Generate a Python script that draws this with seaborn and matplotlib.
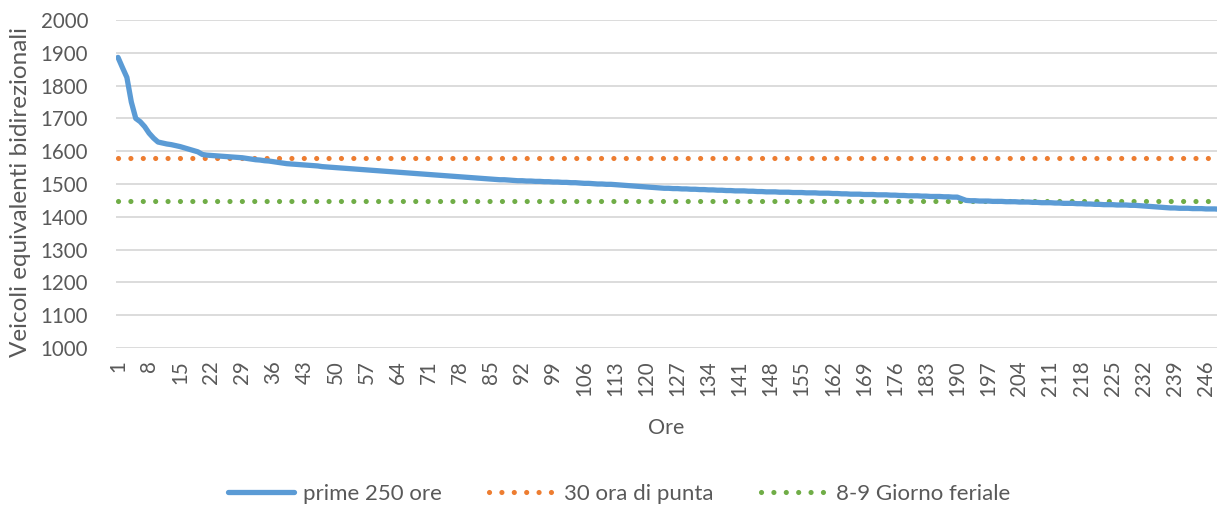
import matplotlib
matplotlib.use("Agg")
import matplotlib.pyplot as plt
import seaborn as sns
import pandas as pd

# Veicoli equivalenti bidirezionali, prime 250 ore ordinate in modo decrescente
prime_250_ore = [
    1886, 1855, 1825, 1750, 1700, 1690, 1675, 1655, 1640, 1628,
    1625, 1622, 1620, 1617, 1614, 1610, 1606, 1602, 1598, 1590,
    1588, 1587, 1586, 1585, 1584, 1583, 1582, 1581, 1580, 1578,
    1576, 1574, 1573, 1571, 1570, 1568, 1566, 1564, 1562, 1561,
    1560, 1559, 1558, 1557, 1556, 1555, 1553, 1552, 1551, 1550,
    1549, 1548, 1547, 1546, 1545, 1544, 1543, 1542, 1541, 1540,
    1539, 1538, 1537, 1536, 1535, 1534, 1533, 1532, 1531, 1530,
    1529, 1528, 1527, 1526, 1525, 1524, 1523, 1522, 1521, 1520,
    1519, 1518, 1517, 1516, 1515, 1514, 1513, 1513, 1512, 1511,
    1510, 1510, 1509, 1509, 1508, 1508, 1507, 1507, 1506, 1506,
    1505, 1505, 1504, 1504, 1503, 1502, 1502, 1501, 1500, 1500,
    1499, 1499, 1498, 1497, 1496, 1495, 1494, 1493, 1492, 1491,
    1490, 1489, 1488, 1487, 1487, 1486, 1486, 1485, 1485, 1484,
    1484, 1483, 1483, 1482, 1482, 1481, 1481, 1480, 1480, 1479,
    1479, 1479, 1478, 1478, 1477, 1477, 1476, 1476, 1476, 1475,
    1475, 1475, 1474, 1474, 1474, 1473, 1473, 1473, 1472, 1472,
    1472, 1471, 1471, 1470, 1470, 1469, 1469, 1469, 1468, 1468,
    1468, 1467, 1467, 1467, 1466, 1466, 1465, 1465, 1464, 1464,
    1464, 1463, 1463, 1462, 1462, 1462, 1461, 1461, 1460, 1460,
    1455, 1450, 1449, 1449, 1448, 1448, 1448, 1447, 1447, 1447,
    1446, 1446, 1446, 1445, 1445, 1445, 1444, 1444, 1443, 1443,
    1443, 1442, 1442, 1441, 1441, 1441, 1440, 1440, 1439, 1439,
    1438, 1438, 1437, 1437, 1437, 1436, 1436, 1436, 1435, 1435,
    1434, 1433, 1432, 1431, 1430, 1429, 1428, 1427, 1427, 1426,
    1426, 1426, 1425, 1425, 1425, 1424, 1424, 1424, 1423, 1423,
]
ora_di_punta_30 = 1580      # 30a ora di punta
giorno_feriale_8_9 = 1447   # fascia 8-9 del giorno feriale

ore = list(range(1, len(prime_250_ore) + 1))
tick_ore = list(range(1, 250, 7))

df = pd.DataFrame({
    "Ore": ore,
    "prime 250 ore": prime_250_ore,
    "30 ora di punta": [ora_di_punta_30] * len(ore),
    "8-9 Giorno feriale": [giorno_feriale_8_9] * len(ore),
})

sns.set_theme(style="white")
plt.rcParams["font.family"] = ["Lato", "DejaVu Sans"]

fig = plt.figure(figsize=(12.17, 5.07), dpi=100)
ax = fig.add_axes([116 / 1217, 1 - 348 / 507, 1 - 116 / 1217, (348 - 20) / 507])

blue, orange, green = "#5B9BD5", "#ED7D31", "#70AD47"
dot = (0, (0.01, 2.4))
text_col = "#595959"

sns.lineplot(data=df, x="Ore", y="8-9 Giorno feriale", ax=ax, color=green,
             linewidth=3.7, linestyle=dot, dash_capstyle="round",
             label="8-9 Giorno feriale", zorder=2)
sns.lineplot(data=df, x="Ore", y="30 ora di punta", ax=ax, color=orange,
             linewidth=3.7, linestyle=dot, dash_capstyle="round",
             label="30 ora di punta", zorder=2)
sns.lineplot(data=df, x="Ore", y="prime 250 ore", ax=ax, color=blue,
             linewidth=3.8, solid_capstyle="round", label="prime 250 ore",
             zorder=3)

ax.set_xlim(0.55, 248.5)
ax.set_ylim(1000, 2000)
ax.set_yticks(range(1000, 2001, 100))
ax.set_xticks(tick_ore)
ax.set_xticklabels([str(t) for t in tick_ore], rotation=90)
ax.yaxis.grid(True, color="#D9D9D9", linewidth=1.3)
ax.xaxis.grid(False)
for s in ax.spines.values():
    s.set_visible(False)
ax.tick_params(axis="both", length=0, labelsize=14.8, labelcolor=text_col)
ax.tick_params(axis="x", pad=9)
ax.tick_params(axis="y", pad=20)

ax.set_xlabel("Ore", fontsize=15.5, color=text_col, labelpad=16)
ax.set_ylabel("Veicoli equivalenti bidirezionali", fontsize=17.5,
              color=text_col)
ax.yaxis.set_label_coords(-85 / 1101, 0.475)

handles, labels = ax.get_legend_handles_labels()
order = [labels.index(n) for n in ["prime 250 ore", "30 ora di punta", "8-9 Giorno feriale"]]
fig.legend([handles[i] for i in order], [labels[i] for i in order],
           loc="center", bbox_to_anchor=(619 / 1217, 1 - 494 / 507),
           ncol=3, frameon=False, fontsize=16, handlelength=3.0,
           columnspacing=2.1, handletextpad=0.4, labelcolor=text_col)
if ax.get_legend():
    ax.get_legend().remove()

fig.savefig("out.png", dpi=100)
